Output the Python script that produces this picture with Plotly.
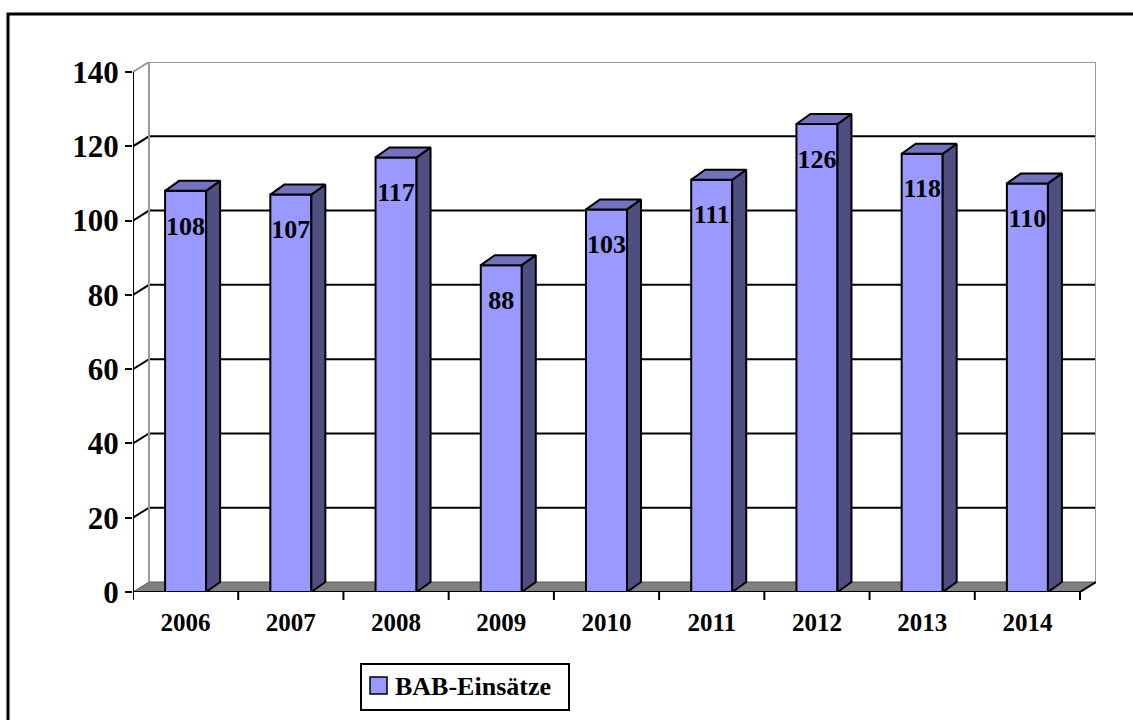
import plotly.graph_objects as go

# ---- data ----
years = ["2006", "2007", "2008", "2009", "2010", "2011", "2012", "2013", "2014"]
values = [108, 107, 117, 88, 103, 111, 126, 118, 110]
y_ticks = [0, 20, 40, 60, 80, 100, 120, 140]
series_name = "BAB-Einsätze"

# ---- geometry (pixels of the reference) ----
W, H = 1133, 720
PX0, PX1 = 133, 1096      # plot area left/right
PY0, PY1 = 62, 592        # plot area top/bottom
n = len(years)
YMAX = 140
px_per_val = (592 - 72) / YMAX
DY = 10 / px_per_val                       # depth offset in value units
DX = 16 * n / (1081 - 133)                 # depth offset in category units
BDX = 14 * n / (1081 - 133)
BDY = DY
BW = 0.39
LABEL_DROP = 10

FONT = "Times New Roman, Liberation Serif, serif"
FRONT = "#9999FF"
SIDE = "#4E4E80"
TOP = "#7272BF"


def px2paper_x(px):
    return (px - PX0) / (PX1 - PX0)


def px2paper_y(py):
    return (PY1 - py) / (PY1 - PY0)


xs = list(range(n))
fig = go.Figure()

# front faces
fig.add_trace(go.Bar(
    x=xs, y=values, width=BW,
    marker=dict(color=FRONT, line=dict(color="black", width=2)),
    showlegend=False, hoverinfo="skip",
))

# side and top faces
sx, sy = [], []
tx, ty = [], []
for i, v in zip(xs, values):
    r = i + BW / 2
    l = i - BW / 2
    sx += [r, r + BDX, r + BDX, r, r, None]
    sy += [0, BDY, v + BDY, v, 0, None]
    tx += [l, l + BDX, r + BDX, r, l, None]
    ty += [v, v + BDY, v + BDY, v, v, None]
fig.add_trace(go.Scatter(x=sx, y=sy, mode="lines", fill="toself", fillcolor=SIDE,
                         line=dict(color="black", width=2), showlegend=False, hoverinfo="skip"))
fig.add_trace(go.Scatter(x=tx, y=ty, mode="lines", fill="toself", fillcolor=TOP,
                         line=dict(color="black", width=2), showlegend=False, hoverinfo="skip"))

# data labels
fig.add_trace(go.Scatter(
    x=xs, y=[v - LABEL_DROP for v in values], mode="text",
    text=[str(v) for v in values],
    textfont=dict(family=FONT, size=26, color="black", weight="bold"),
    showlegend=False, hoverinfo="skip",
))

shapes = []
xl, xr = -0.5, n - 0.5
# floor
shapes.append(dict(type="path", xref="x", yref="y", layer="below",
                   path=f"M{xl},0 L{xr},0 L{xr+DX},{DY} L{xl+DX},{DY} Z",
                   fillcolor="#808080", line=dict(color="#5a5a5a", width=1)))
# gridlines with left side-wall diagonals
for v in y_ticks[1:]:
    col = "#999999" if v == YMAX else "black"
    shapes.append(dict(type="path", xref="x", yref="y", layer="below",
                       path=f"M{xl},{v} L{xl+DX},{v+DY} L{xr+DX},{v+DY}",
                       line=dict(color=col, width=2)))
# back wall edges
shapes.append(dict(type="line", xref="x", yref="y", layer="below",
                   x0=xl + DX, y0=DY, x1=xl + DX, y1=YMAX + DY,
                   line=dict(color="#999999", width=2)))
shapes.append(dict(type="line", xref="x", yref="y", layer="below",
                   x0=xr + DX, y0=DY, x1=xr + DX, y1=YMAX + DY,
                   line=dict(color="#999999", width=2)))
# floor right diagonal
shapes.append(dict(type="line", xref="x", yref="y",
                   x0=xr, y0=0, x1=xr + DX, y1=DY,
                   line=dict(color="black", width=2)))
# front axes
shapes.append(dict(type="line", xref="x", yref="y",
                   x0=xl, y0=0, x1=xr, y1=0, line=dict(color="black", width=2)))
shapes.append(dict(type="line", xref="x", yref="y",
                   x0=xl, y0=0, x1=xl, y1=YMAX, line=dict(color="black", width=2)))
# category ticks
tick_len = 8 / (PY1 - PY0)
for k in range(n + 1):
    shapes.append(dict(type="line", xref="x", yref="paper",
                       x0=xl + k, y0=0, x1=xl + k, y1=-tick_len,
                       line=dict(color="black", width=2)))

# outer border
shapes.append(dict(type="rect", xref="paper", yref="paper",
                   x0=px2paper_x(8), y0=px2paper_y(14),
                   x1=px2paper_x(1145), y1=px2paper_y(735),
                   line=dict(color="black", width=3)))
# legend box
shapes.append(dict(type="rect", xref="paper", yref="paper",
                   x0=px2paper_x(361), y0=px2paper_y(664),
                   x1=px2paper_x(569), y1=px2paper_y(710),
                   line=dict(color="black", width=2), fillcolor="white"))
shapes.append(dict(type="rect", xref="paper", yref="paper",
                   x0=px2paper_x(370), y0=px2paper_y(677),
                   x1=px2paper_x(387), y1=px2paper_y(694),
                   line=dict(color="black", width=1.5), fillcolor=FRONT))

annotations = [dict(xref="paper", yref="paper", x=px2paper_x(393), y=px2paper_y(686),
                    xanchor="left", yanchor="middle", showarrow=False,
                    text=series_name,
                    font=dict(family=FONT, size=26, color="black", weight="bold"))]

fig.update_layout(
    width=W, height=H,
    margin=dict(l=PX0, r=W - PX1, t=PY0, b=H - PY1, pad=0),
    paper_bgcolor="white", plot_bgcolor="rgba(0,0,0,0)",
    shapes=shapes, annotations=annotations, showlegend=False,
    xaxis=dict(range=[xl, xr + DX], tickvals=xs, ticktext=years,
               showgrid=False, zeroline=False, showline=False,
               ticks="outside", ticklen=8, tickcolor="rgba(0,0,0,0)",
               tickfont=dict(family=FONT, size=25, color="black", weight="bold"),
               fixedrange=True),
    yaxis=dict(range=[0, YMAX + DY], tickvals=y_ticks,
               showgrid=False, zeroline=False, showline=False,
               ticks="outside", ticklen=7, tickwidth=2, tickcolor="black",
               tickfont=dict(family=FONT, size=31, color="black", weight="bold"),
               fixedrange=True),
)

fig.write_html("out.html", config={"displayModeBar": False},
               post_script="document.body.style.margin='0';document.body.style.overflow='hidden';")
